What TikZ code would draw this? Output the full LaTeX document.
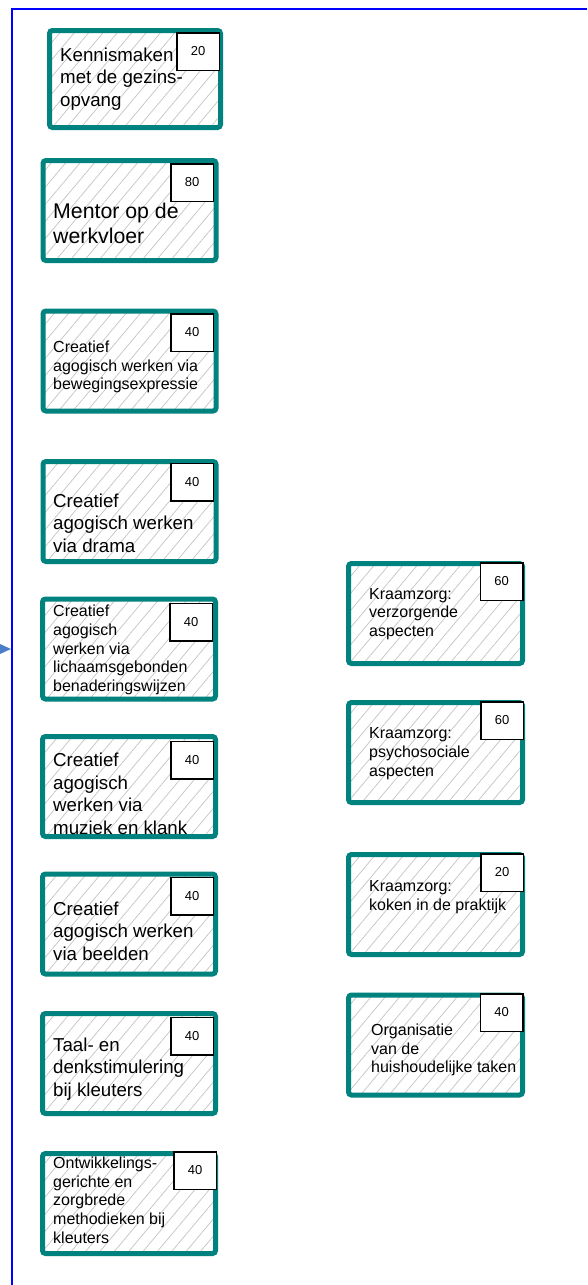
\documentclass[tikz,border=0pt]{standalone}
\usepackage{fontspec}
\setmainfont{Liberation Sans}
\usetikzlibrary{patterns.meta}
\definecolor{tealborder}{HTML}{00827F}
\definecolor{hatchgray}{HTML}{C4C4C4}
\definecolor{arrowblue}{HTML}{4A7EC9}
\definecolor{framblue}{HTML}{0000FF}
\begin{document}
\begin{tikzpicture}[x=1pt,y=-1pt,
  modbox/.style={rectangle, draw=tealborder, line width=5pt, rounded corners=3pt,
    minimum width=173pt, minimum height=100pt, inner sep=0pt,
    preaction={fill=white},
    pattern={Lines[angle=50,distance=11pt,line width=0.7pt]}, pattern color=hatchgray},
  numbox/.style={rectangle, draw=black, line width=1.5pt, fill=white,
    minimum width=42.5pt, minimum height=37.5pt, inner sep=0pt,
    font=\fontsize{13}{15}\selectfont},
  bigtxt/.style={anchor=west, align=left, inner sep=0pt, font=\fontsize{18.7}{22.5}\selectfont},
  hugetxt/.style={anchor=west, align=left, inner sep=0pt, font=\fontsize{21.3}{25.5}\selectfont},
  smalltxt/.style={anchor=west, align=left, inner sep=0pt, font=\fontsize{16}{18.7}\selectfont},
  frameline/.style={draw=framblue, line width=2pt}
]
\useasboundingbox (0,0) rectangle (587,1285);

% frame
\coordinate (fr1) at (587,9);
\coordinate (fr2) at (12,9);
\coordinate (fr3) at (12,1285);
\draw[frameline] (fr1) -- (fr2) -- (fr3);
\fill[arrowblue] (0,644) -- (11,649) -- (0,654) -- cycle;

% left column
\node[modbox, minimum width=171pt, minimum height=97pt] (b1) at (135,79) {};
\node[modbox] (b2) at (129.5,210.5) {};
\node[modbox] (b3) at (129.5,361) {};
\node[modbox] (b4) at (129.5,511.5) {};
\node[modbox] (b5) at (129,649) {};
\node[modbox] (b6) at (129,786.5) {};
\node[modbox] (b7) at (129,924) {};
\node[modbox] (b8) at (129,1063.5) {};
\node[modbox] (b9) at (129,1203.5) {};

% right column
\node[modbox, minimum width=174pt] (r1) at (435.5,613.5) {};
\node[modbox, minimum width=174pt] (r2) at (435.5,752.5) {};
\node[modbox, minimum width=174pt] (r3) at (435.5,904.5) {};
\node[modbox, minimum width=174pt] (r4) at (435.5,1045) {};

% texts
\node[bigtxt] (t1) at (60,79) {Kennismaken\\met de gezins-\\opvang};
\node[hugetxt] (t2) at (53,223.5) {Mentor op de\\werkvloer};
\node[smalltxt] (t3) at (53,367) {Creatief\\agogisch werken via\\bewegingsexpressie};
\node[bigtxt] (t4) at (53,523) {Creatief\\agogisch werken\\via drama};
\node[smalltxt] (t5) at (53,650) {Creatief\\agogisch\\werken via\\lichaamsgebonden\\benaderingswijzen};
\node[bigtxt] (t6) at (53,794) {Creatief\\agogisch\\werken via\\muziek en klank};
\node[bigtxt] (t7) at (53,931) {Creatief\\agogisch werken\\via beelden};
\node[bigtxt] (t8) at (53,1069) {Taal- en\\denkstimulering\\bij kleuters};
\node[smalltxt] (t9) at (53,1200) {Ontwikkelings-\\gerichte en\\zorgbrede\\methodieken bij\\kleuters};

\node[smalltxt] (s1) at (369,614) {Kraamzorg:\\verzorgende\\aspecten};
\node[smalltxt] (s2) at (369,753.5) {Kraamzorg:\\psychosociale\\aspecten};
\node[smalltxt] (s3) at (369,897) {Kraamzorg:\\koken in de praktijk};
\node[smalltxt] (s4) at (371,1050) {Organisatie\\van de\\huishoudelijke taken};

% number boxes
\node[numbox] (n1) at (198,51.5) {20};
\node[numbox] (n2) at (192,182.5) {80};
\node[numbox] (n3) at (192,332.5) {40};
\node[numbox] (n4) at (192,482) {40};
\node[numbox] (n5) at (191,622) {40};
\node[numbox] (n6) at (192,760) {40};
\node[numbox] (n7) at (192,896) {40};
\node[numbox] (n8) at (192,1036) {40};
\node[numbox] (n9) at (195,1170.5) {40};
\node[numbox] (m1) at (501.5,581.5) {60};
\node[numbox] (m2) at (502,720.5) {60};
\node[numbox] (m3) at (502,872.5) {20};
\node[numbox] (m4) at (501.5,1012.5) {40};
\end{tikzpicture}
\end{document}
